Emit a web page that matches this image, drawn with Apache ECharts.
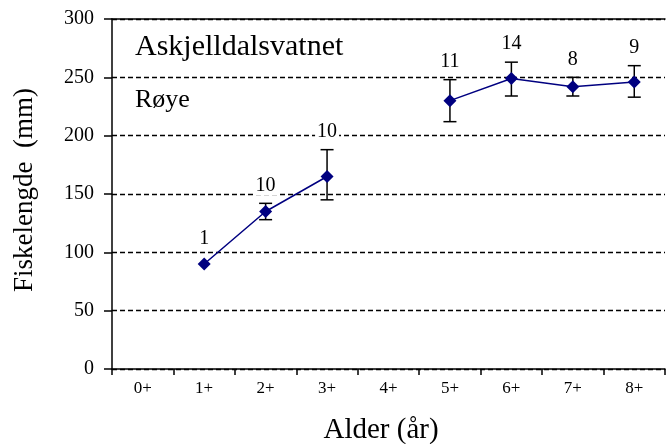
<!DOCTYPE html>
<html><head><meta charset="utf-8">
<script src="https://cdn.jsdelivr.net/npm/echarts@6/dist/echarts.min.js"></script>
<style>html,body{margin:0;padding:0;background:#fff}#c{width:666px;height:444px}</style>
</head><body><div id="c"></div>
<script>
const categories = ['0+','1+','2+','3+','4+','5+','6+','7+','8+'];
const meanLength = [null, 90, 135, 165, null, 230, 249, 242, 246];
const lowLength  = [null, 90, 128, 145, null, 212, 234, 234, 233];
const highLength = [null, 90, 142, 188, null, 248, 263, 250, 260];
const sampleN    = [null, 1, 10, 10, null, 11, 14, 8, 9];
const yTicks = [0, 50, 100, 150, 200, 250, 300];

const FONT = '"Liberation Serif", "Times New Roman", serif';
const chart = echarts.init(document.getElementById('c'), null, {renderer: 'canvas'});

const errData = categories.map((c, i) => [i, lowLength[i], highLength[i], meanLength[i], sampleN[i]]).filter(d => d[3] != null);

chart.setOption({
  animation: false,
  backgroundColor: '#fff',
  grid: {left: 112, right: 1, top: 19, bottom: 75, containLabel: false},
  xAxis: [{
    type: 'category', data: categories, boundaryGap: true,
    axisLine: {show: true, lineStyle: {color: '#000', width: 1.5}},
    axisTick: {show: true, length: 6, lineStyle: {color: '#000', width: 1.5}},
    axisLabel: {color: '#000', fontFamily: FONT, fontSize: 17, margin: 11}
  }, {
    type: 'category', data: categories, position: 'top',
    axisLine: {show: true, lineStyle: {color: '#000', width: 1.5}},
    axisTick: {show: false}, axisLabel: {show: false}
  }],
  yAxis: {
    type: 'value', min: yTicks[0], max: yTicks[yTicks.length - 1], interval: 50,
    axisLine: {show: true, lineStyle: {color: '#000', width: 1.5}},
    axisTick: {show: true, length: 8, inside: false, lineStyle: {color: '#000', width: 1.5}},
    axisLabel: {color: '#000', fontFamily: FONT, fontSize: 20, margin: 18},
    splitLine: {show: true, lineStyle: {color: '#000', type: [5, 3], width: 1.3}}
  },
  graphic: [
    {type: 'text', x: 135, y: 47, style: {text: 'Askjelldalsvatnet', fill: '#000', font: '30px ' + FONT, verticalAlign: 'middle'}},
    {type: 'text', x: 135, y: 100, style: {text: 'Røye', fill: '#000', font: '26px ' + FONT, verticalAlign: 'middle'}},
    {type: 'text', x: 25, y: 190, rotation: Math.PI / 2, style: {text: 'Fiskelengde  (mm)', fill: '#000', font: '27px ' + FONT, align: 'center', verticalAlign: 'middle'}},
    {type: 'text', x: 381, y: 430, style: {text: 'Alder (år)', fill: '#000', font: '29px ' + FONT, align: 'center', verticalAlign: 'middle'}}
  ],
  series: [
    {
      type: 'custom', z: 3,
      renderItem: function (params, api) {
        const x = api.coord([api.value(0), 0])[0];
        const yLo = api.coord([api.value(0), api.value(1)])[1];
        const yHi = api.coord([api.value(0), api.value(2)])[1];
        const yMean = api.coord([api.value(0), api.value(3)])[1];
        const n = api.value(4);
        const cap = 6.5;
        const st = {stroke: '#000', lineWidth: 1.5};
        const children = [];
        if (Math.abs(yLo - yHi) > 0.5) {
          children.push({type: 'line', shape: {x1: x, y1: yLo, x2: x, y2: yHi}, style: st});
          children.push({type: 'line', shape: {x1: x - cap, y1: yLo, x2: x + cap, y2: yLo}, style: st});
          children.push({type: 'line', shape: {x1: x - cap, y1: yHi, x2: x + cap, y2: yHi}, style: st});
        }
        const topY = Math.min(yHi, yMean - 7);
        children.push({type: 'text', z2: 10, style: {
          text: String(n), x: x, y: topY - 18, align: 'center', verticalAlign: 'middle',
          fill: '#000', font: '20px ' + FONT, backgroundColor: '#fff', padding: [0, 2]
        }});
        return {type: 'group', children: children};
      },
      data: errData
    },
    {
      type: 'line', data: meanLength, connectNulls: false, z: 4,
      symbol: 'diamond', symbolSize: 13,
      lineStyle: {color: '#000080', width: 1.5},
      itemStyle: {color: '#000080'}
    }
  ]
});
</script></body></html>
